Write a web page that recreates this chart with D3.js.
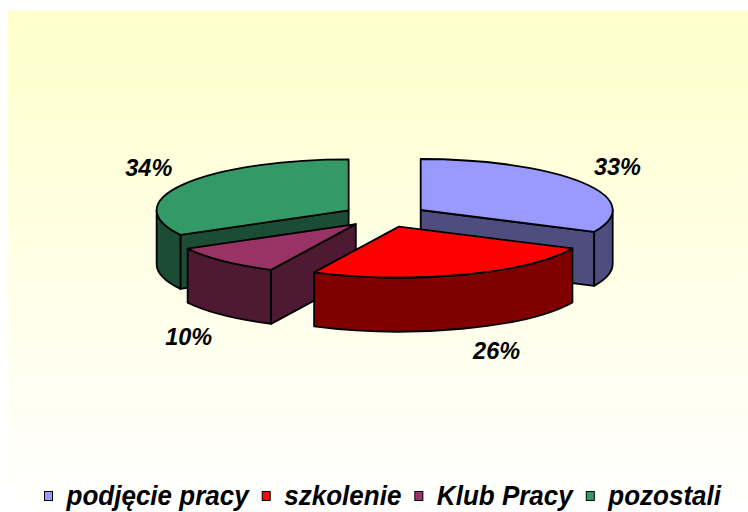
<!DOCTYPE html>
<html>
<head>
<meta charset="utf-8">
<script src="https://cdn.jsdelivr.net/npm/d3@7"></script>
<style>
    body { margin: 0; background: #ffffff; }
    svg { display: block; }
    text { font-family: "Liberation Sans", Arial, sans-serif; font-weight: bold; font-style: italic; }
</style>
</head>
<body>
<div id="chart"></div>
<script>
// data
const categories = ["podjęcie pracy", "szkolenie", "Klub Pracy", "pozostali"];
const values = [33, 26, 10, 34];
const valueLabels = ["33%", "26%", "10%", "34%"];
const topColors = ["#9999ff", "#ff0000", "#993366", "#339966"];
const sideColors = ["#4d4d80", "#800000", "#4d1933", "#1b4d34"];

const width = 748, height = 512;

const svg = d3.select("#chart").append("svg")
    .attr("width", width)
    .attr("height", height);

// background panel with fading yellow
const grad = svg.append("defs").append("linearGradient")
    .attr("id", "bg")
    .attr("x1", 0).attr("y1", 0).attr("x2", 0).attr("y2", 1);
grad.append("stop").attr("offset", "0%").attr("stop-color", "#ffffcc");
grad.append("stop").attr("offset", "100%").attr("stop-color", "#ffffff");

svg.append("rect")
    .attr("x", 8).attr("y", 11)
    .attr("width", width - 8).attr("height", height - 11)
    .attr("fill", "url(#bg)");

// pie geometry (oblique projection of a flat cylinder)
const cx = 385, cy = 216, rx = 192, ry = 51, depth = 54, explode = 0.22;

const pie = d3.pie().sort(null).value(d => d);
const slices = pie(values).map((a, i) => {
    a.i = i;
    a.mid = (a.startAngle + a.endAngle) / 2;
    a.ox = explode * rx * Math.sin(a.mid);
    a.oy = -explode * ry * Math.cos(a.mid);
    return a;
});

// point of a slice at angle t, radius fraction f, dropped by z
function pt(s, t, f, z) {
    return [cx + s.ox + f * rx * Math.sin(t), cy + s.oy - f * ry * Math.cos(t) + z];
}

function arcTo(p, large, sweep) {
    return "A" + rx + "," + ry + " 0 " + large + "," + sweep + " " + p[0] + "," + p[1];
}

function topPath(s) {
    let a = pt(s, s.startAngle, 0, 0),
        b = pt(s, s.startAngle, 1, 0),
        c = pt(s, s.endAngle, 1, 0);
    let large = (s.endAngle - s.startAngle) > Math.PI ? 1 : 0;
    return "M" + a + "L" + b + arcTo(c, large, 1) + "Z";
}

function wallPath(s) {
    let t0 = Math.max(s.startAngle, Math.PI / 2),
        t1 = Math.min(s.endAngle, 3 * Math.PI / 2);
    if (t1 <= t0) return null;
    let a = pt(s, t0, 1, 0), b = pt(s, t1, 1, 0),
        c = pt(s, t1, 1, depth), d = pt(s, t0, 1, depth);
    return "M" + a + arcTo(b, 0, 1) + "L" + c + arcTo(d, 0, 0) + "Z";
}

function facePath(s, t) {
    let a = pt(s, t, 0, 0), b = pt(s, t, 1, 0),
        c = pt(s, t, 1, depth), d = pt(s, t, 0, depth);
    return "M" + a + "L" + b + "L" + c + "L" + d + "Z";
}

// draw back slices first
const order = slices.slice().sort((a, b) => (-Math.cos(a.mid)) - (-Math.cos(b.mid)));

const pieG = svg.append("g")
    .attr("stroke", "#000")
    .attr("stroke-width", 1.8)
    .attr("stroke-linejoin", "round");

order.forEach(s => {
    let g = pieG.append("g").attr("class", "slice");
    let side = sideColors[s.i];

    if (Math.sin(s.startAngle) < -1e-6) {
        g.append("path").attr("d", facePath(s, s.startAngle)).attr("fill", side);
    }
    if (Math.sin(s.endAngle) > 1e-6) {
        g.append("path").attr("d", facePath(s, s.endAngle)).attr("fill", side);
    }
    let w = wallPath(s);
    if (w) g.append("path").attr("d", w).attr("fill", side);

    g.append("path").attr("d", topPath(s)).attr("fill", topColors[s.i]);
});

// value labels outside the rim
slices.forEach(s => {
    let front = Math.cos(s.mid) < 0;
    let p = pt(s, s.mid, 1, front ? depth : 0);
    let right = Math.sin(s.mid) >= 0;
    svg.append("text")
        .attr("x", p[0] + (right ? 11 : -11))
        .attr("y", front ? p[1] + 30 : p[1] - 8)
        .attr("text-anchor", right ? "start" : "end")
        .attr("font-size", 23.5)
        .attr("fill", "#000")
        .text(valueLabels[s.i]);
});

// legend (text a bit tall and narrow, like the original)
const sx = 0.93;
const legend = svg.append("g").attr("class", "legend");
let lx = 0;
categories.forEach((c, i) => {
    let item = legend.append("g").attr("transform", "translate(" + lx + ",0)");
    item.append("rect")
        .attr("x", 0.5).attr("y", -13.5)
        .attr("width", 8).attr("height", 9)
        .attr("fill", topColors[i])
        .attr("stroke", "#000")
        .attr("stroke-width", 1);
    let t = item.append("text")
        .attr("transform", "translate(22.5,0) scale(" + sx + ",1)")
        .attr("font-size", 28)
        .attr("fill", "#000")
        .text(c);
    lx += 22.5 + t.node().getComputedTextLength() * sx + 13;
});
legend.attr("transform", "translate(44,505)");
</script>
</body>
</html>
